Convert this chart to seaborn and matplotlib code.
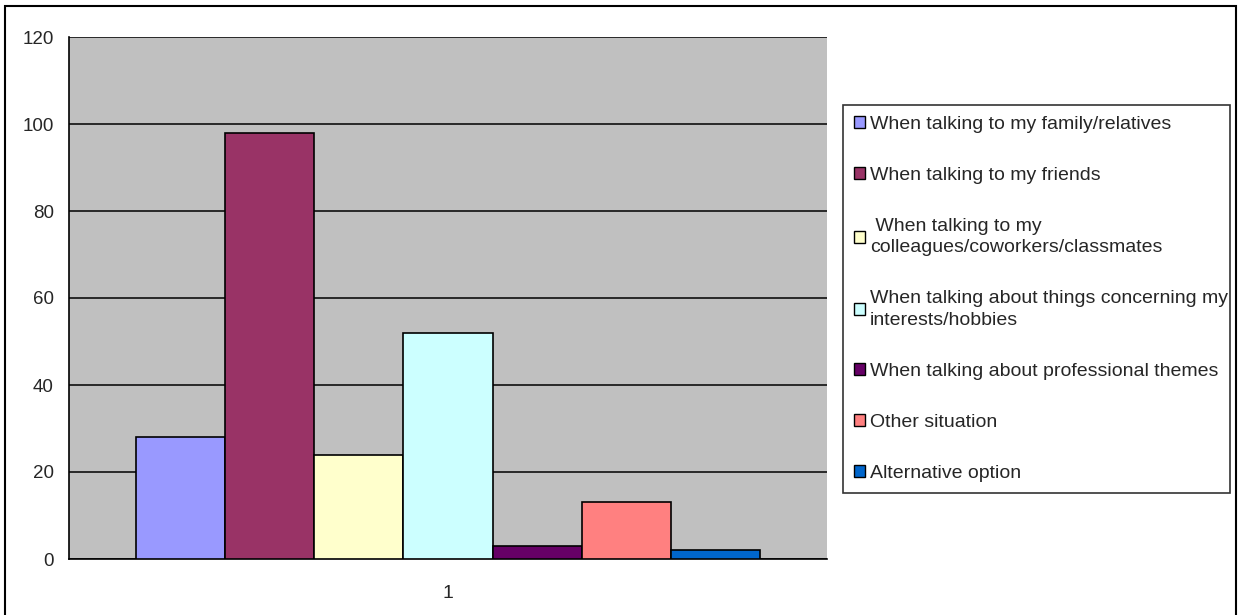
import matplotlib
matplotlib.use("Agg")
import matplotlib.pyplot as plt
import seaborn as sns
import pandas as pd
from matplotlib.patches import Rectangle

# chart data
categories = ["1"]
series_labels = [
    "When talking to my family/relatives",
    "When talking to my friends",
    " When talking to my\ncolleagues/coworkers/classmates",
    "When talking about things concerning my\ninterests/hobbies",
    "When talking about professional themes",
    "Other situation",
    "Alternative option",
]
series_values = [28, 98, 24, 52, 3, 13, 2]
series_colors = ["#9999FF", "#993366", "#FFFFCC", "#CCFFFF", "#660066", "#FF8080", "#0066CC"]
y_ticks = [0, 20, 40, 60, 80, 100, 120]

df = pd.DataFrame({
    "group": categories * len(series_labels),
    "series": series_labels,
    "value": series_values,
})

sns.set_style("white")
plt.rcParams["font.family"] = ["Liberation Sans", "DejaVu Sans"]

fig = plt.figure(figsize=(12.4, 6.15), dpi=100)
ax = fig.add_axes([69 / 1240, 1 - 559 / 615, (827 - 69) / 1240, (559 - 37) / 615])
ax.set_facecolor("#C0C0C0")

sns.barplot(data=df, x="group", y="value", hue="series", hue_order=series_labels,
            palette=series_colors, saturation=1, width=0.822, edgecolor="black",
            linewidth=1.2, ax=ax, legend=False, zorder=3)

ax.set_ylim(0, 120)
ax.set_xlim(-0.5, 0.5)
ax.set_yticks(y_ticks)
ax.set_yticklabels([str(t) for t in y_ticks], fontsize=13.5)
ax.yaxis.grid(True, color="black", linewidth=1.1, zorder=1)
ax.set_axisbelow(True)
ax.set_xlabel("")
ax.set_ylabel("")
ax.set_xticks([0])
ax.set_xticklabels(categories, fontsize=14)
ax.tick_params(axis="x", length=0, pad=19)
ax.tick_params(axis="y", direction="out", length=5, width=1, color="black", pad=6)
# tick marks at the category boundaries
ax.set_xticks([-0.5, 0.5], minor=True)
ax.tick_params(axis="x", which="minor", length=6, width=1, color="black", direction="out")

for side in ["left", "bottom"]:
    ax.spines[side].set_color("black")
    ax.spines[side].set_linewidth(1.2)
for side in ["top", "right"]:
    ax.spines[side].set_visible(False)

handles = [Rectangle((0, 0), 1, 1, facecolor=c, edgecolor="black", linewidth=1)
           for c in series_colors]
leg = fig.legend(handles, series_labels, loc="upper left",
                 bbox_to_anchor=(843 / 1240, 1 - 105 / 615, (1230 - 843) / 1240, 0.0),
                 mode="expand", fontsize=14, frameon=True, fancybox=False,
                 handlelength=0.6, handleheight=0.6, handletextpad=0.22,
                 labelspacing=1.75, borderpad=0.55, borderaxespad=0)
for t in leg.get_texts():
    t.set_linespacing(1.35)
leg.get_frame().set_edgecolor("black")
leg.get_frame().set_linewidth(1.2)

# outer chart border
fig.patches.append(Rectangle((5 / 1240, -0.02), (1236 - 5) / 1240, 1.02 - 6 / 615,
                             transform=fig.transFigure, fill=False,
                             edgecolor="black", linewidth=1.5))

fig.savefig("out.png", dpi=100)
